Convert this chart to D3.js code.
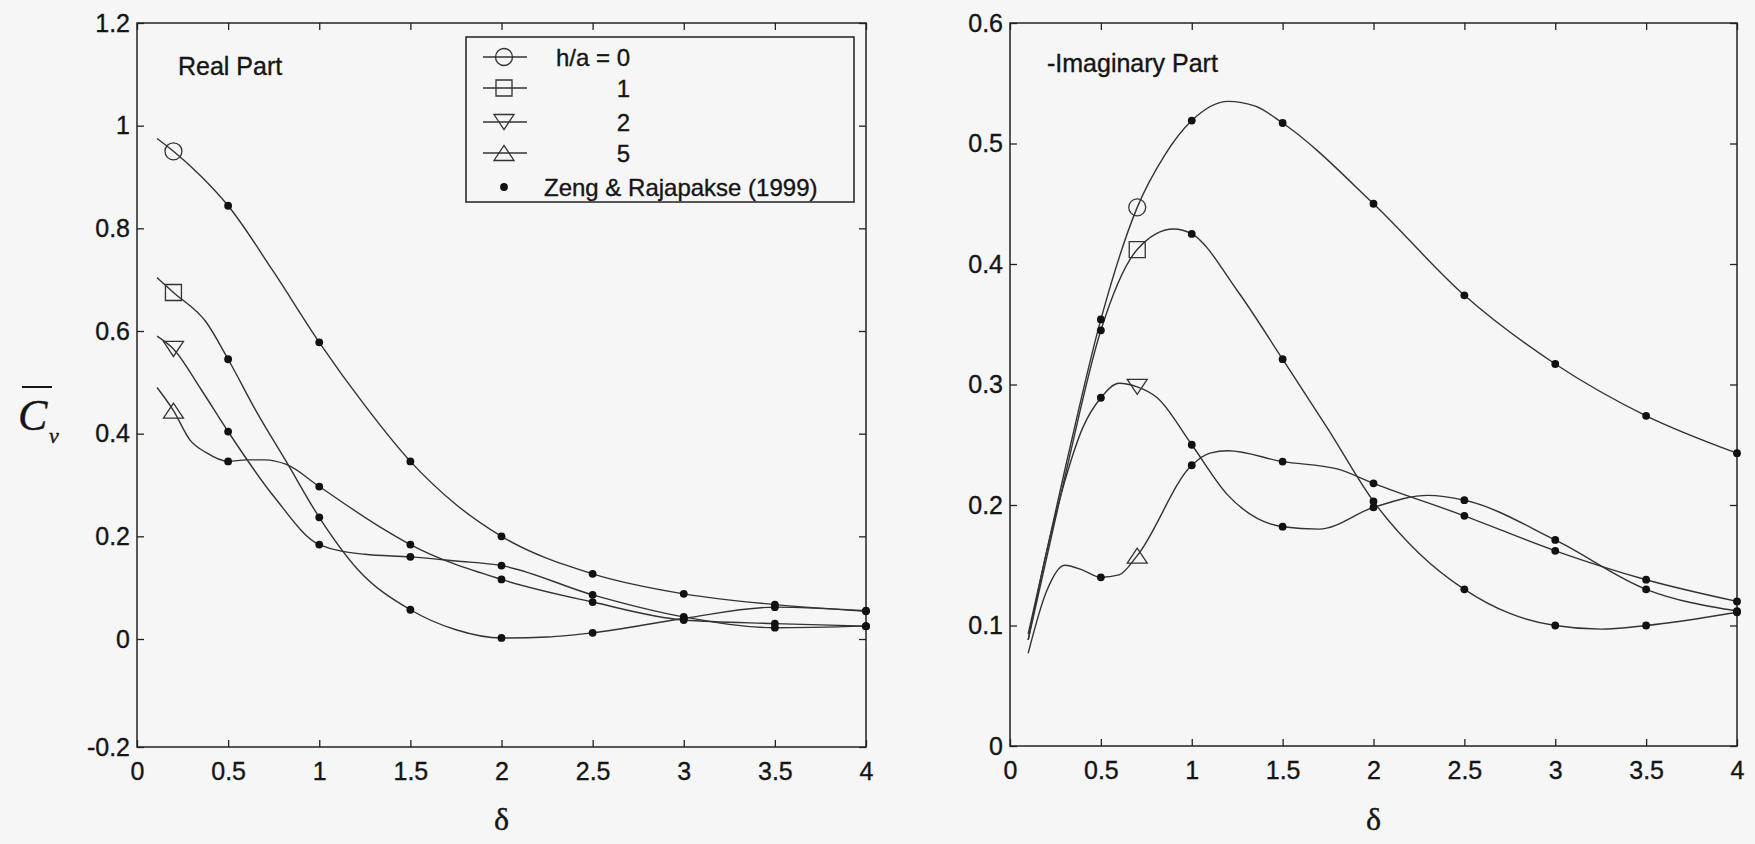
<!DOCTYPE html>
<html>
<head>
<meta charset="utf-8">
<script src="https://cdn.jsdelivr.net/npm/d3@7"></script>
<style>
  body { margin: 0; background: #f6f6f6; }
  svg { display: block; }
  text { stroke: #151515; stroke-width: 0.35; }
  .tick text { font-family: "Liberation Sans", Arial, sans-serif; font-size: 25px; fill: #151515; }
  .tick line { stroke: #222; stroke-width: 1.3; }
  .domain { display: none; }
</style>
</head>
<body>
<div id="chart"></div>
<script>
// ---- data ----
const deltaTicks = [0, 0.5, 1, 1.5, 2, 2.5, 3, 3.5, 4];
const realTicks = [-0.2, 0, 0.2, 0.4, 0.6, 0.8, 1, 1.2];
const imagTicks = [0, 0.1, 0.2, 0.3, 0.4, 0.5, 0.6];

const seriesNames = ["h/a = 0", "1", "2", "5"];
const seriesSymbols = ["circle", "square", "triDown", "triUp"];

// present solution, real part: [delta, value]
const realH0 = [[0.11,0.975],[0.2,0.95],[0.35,0.902],[0.5,0.844],[0.75,0.715],[1,0.578],[1.25,0.455],[1.5,0.346],[1.75,0.262],[2,0.2],[2.5,0.127],[3,0.088],[3.5,0.067],[4,0.055]];
const realH1 = [[0.11,0.704],[0.2,0.675],[0.38,0.617],[0.5,0.545],[0.66,0.44],[0.82,0.345],[1,0.237],[1.21,0.136],[1.5,0.057],[1.75,0.018],[2,0.002],[2.25,0.004],[2.5,0.012],[3,0.04],[3.5,0.062],[4,0.054]];
const realH2 = [[0.11,0.59],[0.2,0.565],[0.35,0.487],[0.5,0.404],[0.75,0.278],[1,0.184],[1.25,0.165],[1.5,0.16],[1.75,0.152],[2,0.143],[2.5,0.086],[3,0.043],[3.5,0.022],[4,0.025]];
const realH5 = [[0.11,0.49],[0.2,0.445],[0.29,0.388],[0.38,0.363],[0.5,0.346],[0.6,0.349],[0.7,0.349],[0.82,0.34],[1,0.297],[1.33,0.219],[1.5,0.184],[2,0.116],[2.5,0.072],[3,0.037],[3.5,0.03],[4,0.025]];

// present solution, -imaginary part
const imagH0 = [[0.1,0.093],[0.3,0.228],[0.5,0.354],[0.7,0.447],[0.85,0.49],[1,0.519],[1.2,0.535],[1.35,0.531],[1.5,0.517],[2,0.45],[2.5,0.374],[3,0.317],[3.5,0.274],[4,0.243]];
const imagH1 = [[0.1,0.088],[0.3,0.222],[0.5,0.345],[0.7,0.412],[0.9,0.429],[1,0.425],[1.25,0.378],[1.5,0.321],[1.75,0.263],[2,0.203],[2.25,0.16],[2.5,0.13],[2.75,0.11],[3,0.1],[3.25,0.097],[3.5,0.1],[4,0.111]];
const imagH2 = [[0.1,0.088],[0.2,0.16],[0.3,0.219],[0.4,0.264],[0.5,0.289],[0.6,0.301],[0.7,0.298],[0.81,0.289],[1,0.25],[1.2,0.208],[1.5,0.182],[1.7,0.18],[2,0.198],[2.3,0.208],[2.5,0.204],[3,0.171],[3.5,0.13],[4,0.112]];
const imagH5 = [[0.1,0.077],[0.2,0.128],[0.3,0.15],[0.4,0.146],[0.5,0.14],[0.6,0.142],[0.7,0.158],[1,0.233],[1.1,0.243],[1.2,0.245],[1.5,0.236],[1.8,0.23],[2,0.218],[2.5,0.191],[3,0.162],[3.5,0.138],[4,0.12]];

// open markers (one per curve)
const markerDeltaReal = 0.2;
const markerReal = [0.95, 0.675, 0.565, 0.445];
const markerDeltaImag = 0.7;
const markerImag = [0.447, 0.412, 0.298, 0.158];

// Zeng & Rajapakse (1999)
const zengDelta = [0.5, 1, 1.5, 2, 2.5, 3, 3.5, 4];
const zengRealH0 = [0.844, 0.578, 0.346, 0.2, 0.127, 0.088, 0.067, 0.055];
const zengRealH1 = [0.545, 0.237, 0.057, 0.002, 0.012, 0.04, 0.062, 0.054];
const zengRealH2 = [0.404, 0.184, 0.16, 0.143, 0.086, 0.043, 0.022, 0.025];
const zengRealH5 = [0.346, 0.297, 0.184, 0.116, 0.072, 0.037, 0.03, 0.025];
const zengImagH0 = [0.354, 0.519, 0.517, 0.45, 0.374, 0.317, 0.274, 0.243];
const zengImagH1 = [0.345, 0.425, 0.321, 0.203, 0.13, 0.1, 0.1, 0.111];
const zengImagH2 = [0.289, 0.25, 0.182, 0.198, 0.204, 0.171, 0.13, 0.112];
const zengImagH5 = [0.14, 0.233, 0.236, 0.218, 0.191, 0.162, 0.138, 0.12];

// ---- drawing ----
const W = 1755, H = 844;
const ink = "#222";

const svg = d3.select("#chart").append("svg")
    .attr("width", W)
    .attr("height", H);

// marker shapes, centred on the point
function symbolPath(kind) {
    if (kind === "circle") return "M 8.5,0 A 8.5,8.5 0 1,1 -8.5,0 A 8.5,8.5 0 1,1 8.5,0 Z";
    if (kind === "square") return "M -8,-8 L 8,-8 L 8,8 L -8,8 Z";
    if (kind === "triDown") return "M -10,-7.5 L 10,-7.5 L 0,7.5 Z";
    return "M -10,7.5 L 10,7.5 L 0,-7.5 Z";
}

function fmt(d) { return String(+d.toFixed(1)); }

function drawPanel(p) {
    const x = d3.scaleLinear().domain([0, 4]).range([p.left, p.right]);
    const y = d3.scaleLinear().domain(p.yDomain).range(p.yRange);
    const g = svg.append("g");

    // axes, ticks pointing inward on all four sides
    g.append("g").attr("transform", `translate(0,${p.bottom})`)
        .call(d3.axisBottom(x).tickValues(deltaTicks).tickSizeInner(-7).tickSizeOuter(0).tickPadding(15).tickFormat(fmt));
    g.append("g").attr("transform", `translate(0,${p.top})`)
        .call(d3.axisTop(x).tickValues(deltaTicks).tickSizeInner(-7).tickSizeOuter(0).tickFormat(""));
    g.append("g").attr("transform", `translate(${p.left},0)`)
        .call(d3.axisLeft(y).tickValues(p.yTicks).tickSizeInner(-7).tickSizeOuter(0).tickPadding(7).tickFormat(fmt));
    g.append("g").attr("transform", `translate(${p.right},0)`)
        .call(d3.axisRight(y).tickValues(p.yTicks).tickSizeInner(-7).tickSizeOuter(0).tickFormat(""));

    g.append("rect")
        .attr("x", p.left).attr("y", p.top)
        .attr("width", p.right - p.left).attr("height", p.bottom - p.top)
        .attr("fill", "none").attr("stroke", ink).attr("stroke-width", 1.5);

    const line = d3.line()
        .x(d => x(d[0]))
        .y(d => y(d[1]))
        .curve(d3.curveMonotoneX);

    g.selectAll(".curve")
        .data(p.curves)
        .enter()
        .append("path")
        .attr("class", "curve")
        .attr("d", line)
        .attr("fill", "none")
        .attr("stroke", "#333")
        .attr("stroke-width", 1.4);

    // open markers
    g.selectAll(".sym")
        .data(p.markers)
        .enter()
        .append("path")
        .attr("class", "sym")
        .attr("transform", d => `translate(${x(p.markerDelta)},${y(d)})`)
        .attr("d", (d, i) => symbolPath(seriesSymbols[i]))
        .attr("fill", "none")
        .attr("stroke", "#333")
        .attr("stroke-width", 1.3);

    // Zeng & Rajapakse dots
    p.zeng.forEach(vals => {
        g.selectAll(null)
            .data(vals)
            .enter()
            .append("circle")
            .attr("cx", (d, i) => x(zengDelta[i]))
            .attr("cy", d => y(d))
            .attr("r", 3.9)
            .attr("fill", "#111");
    });

    g.append("text")
        .attr("x", p.titleX).attr("y", p.titleY)
        .style("font-family", "'Liberation Sans', Arial, sans-serif")
        .style("font-size", "25px")
        .attr("fill", "#151515")
        .text(p.title);

    g.append("text")
        .attr("x", (p.left + p.right) / 2).attr("y", 830)
        .attr("text-anchor", "middle")
        .style("font-family", "'Liberation Serif', 'Times New Roman', serif")
        .style("font-size", "32px")
        .attr("fill", "#151515")
        .text("δ");
}

drawPanel({
    left: 137, right: 866, top: 23, bottom: 747,
    yDomain: [-0.2, 0, 1.2], yRange: [747, 639, 23], yTicks: realTicks,
    curves: [realH0, realH1, realH2, realH5],
    markers: markerReal, markerDelta: markerDeltaReal,
    zeng: [zengRealH0, zengRealH1, zengRealH2, zengRealH5],
    title: "Real Part", titleX: 178, titleY: 75
});

drawPanel({
    left: 1010, right: 1737, top: 23, bottom: 746,
    yDomain: [0, 0.6], yRange: [746, 23], yTicks: imagTicks,
    curves: [imagH0, imagH1, imagH2, imagH5],
    markers: markerImag, markerDelta: markerDeltaImag,
    zeng: [zengImagH0, zengImagH1, zengImagH2, zengImagH5],
    title: "-Imaginary Part", titleX: 1047, titleY: 72
});

// y-axis label: C with overbar, subscript nu
svg.append("line")
    .attr("x1", 22).attr("x2", 52).attr("y1", 387).attr("y2", 387)
    .attr("stroke", "#151515").attr("stroke-width", 2);
svg.append("text")
    .attr("x", 18).attr("y", 430)
    .style("font-family", "'Liberation Serif', 'Times New Roman', serif")
    .style("font-style", "italic")
    .style("font-size", "44px")
    .attr("fill", "#151515")
    .text("C");
svg.append("text")
    .attr("x", 49).attr("y", 443)
    .style("font-family", "'Liberation Serif', 'Times New Roman', serif")
    .style("font-style", "italic")
    .style("font-size", "22px")
    .attr("fill", "#151515")
    .text("ν");

// legend
const legend = svg.append("g");
legend.append("rect")
    .attr("x", 466).attr("y", 37).attr("width", 388).attr("height", 165)
    .attr("fill", "none").attr("stroke", ink).attr("stroke-width", 1.5);

const rowY = [57, 88, 122, 153];
seriesNames.forEach((name, i) => {
    legend.append("line")
        .attr("x1", 483).attr("x2", 527).attr("y1", rowY[i]).attr("y2", rowY[i])
        .attr("stroke", "#333").attr("stroke-width", 1.3);
    legend.append("path")
        .attr("transform", `translate(504,${rowY[i]})`)
        .attr("d", symbolPath(seriesSymbols[i]))
        .attr("fill", "none").attr("stroke", "#333").attr("stroke-width", 1.3);
    legend.append("text")
        .attr("x", 630).attr("y", rowY[i] + 8.5)
        .attr("text-anchor", "end")
        .style("font-family", "'Liberation Sans', Arial, sans-serif")
        .style("font-size", "24px")
        .attr("fill", "#151515")
        .text(name);
});
legend.append("circle")
    .attr("cx", 504).attr("cy", 187).attr("r", 3.9).attr("fill", "#111");
legend.append("text")
    .attr("x", 544).attr("y", 195.5)
    .style("font-family", "'Liberation Sans', Arial, sans-serif")
    .style("font-size", "24px")
    .attr("fill", "#151515")
    .text("Zeng & Rajapakse (1999)");
</script>
</body>
</html>
